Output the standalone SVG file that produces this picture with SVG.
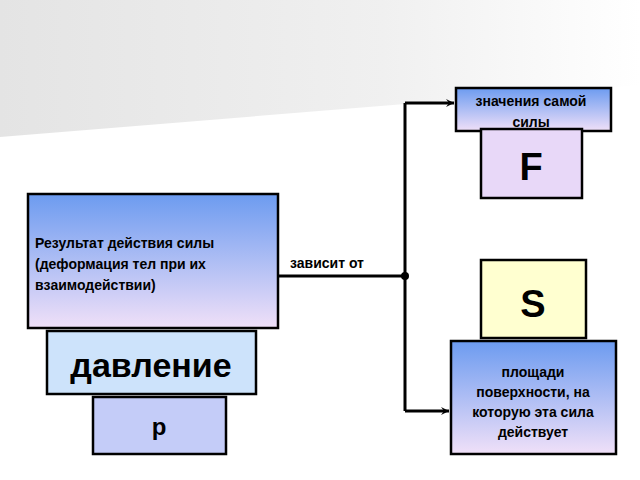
<svg xmlns="http://www.w3.org/2000/svg" width="640" height="480" viewBox="0 0 640 480">
<defs>
<linearGradient id="bg" x1="0" y1="0" x2="1" y2="0"><stop offset="0" stop-color="#e4e4e4"/><stop offset="0.6" stop-color="#f0f0f0"/><stop offset="1" stop-color="#ffffff"/></linearGradient>
<linearGradient id="bl" x1="0" y1="0" x2="0" y2="1"><stop offset="0" stop-color="#6c9bf0"/><stop offset="1" stop-color="#f0e0f8"/></linearGradient>
<marker id="ar" markerWidth="10" markerHeight="10" refX="9" refY="5" orient="auto" markerUnits="userSpaceOnUse"><path d="M1,1 L9,5 L1,9 L4,5 Z" fill="#000"/></marker>
<style>
.b{stroke:#000;stroke-width:2.5}
.t{font-family:"Liberation Sans",Arial,sans-serif;font-weight:bold;fill:#000}
.c{fill:none;stroke:#000;stroke-width:3}
</style>
</defs>
<polygon points="0,0 640,0 640,85 0,137" fill="url(#bg)"/>
<g id="conn">
<path class="c" d="M278,276 H405"/>
<path class="c" d="M405,103 V411"/>
<path class="c" d="M405,103 H454" marker-end="url(#ar)"/>
<path class="c" d="M405,411 H449" marker-end="url(#ar)"/>
<circle cx="405" cy="276" r="4" fill="#000"/>
<text class="t" x="290" y="268" font-size="14">зависит от</text>
</g>
<g id="n-value"><rect class="b" x="456" y="88" width="155" height="43" fill="url(#bl)"/>
<text class="t" x="531" y="106" font-size="14" text-anchor="middle">значения самой</text>
<text class="t" x="531" y="127" font-size="14" text-anchor="middle">силы</text></g>
<g id="n-F"><rect class="b" x="481" y="129" width="101" height="69" fill="#e8d8f8"/>
<text class="t" x="531" y="180" font-size="38" text-anchor="middle">F</text></g>
<g id="n-result"><rect class="b" x="28" y="194" width="250" height="134" fill="url(#bl)"/>
<text class="t" x="35" y="248" font-size="14">Результат действия силы</text>
<text class="t" x="35" y="269" font-size="14">(деформация тел при их</text>
<text class="t" x="35" y="290" font-size="14">взаимодействии)</text></g>
<g id="n-pressure"><rect class="b" x="47" y="331" width="209" height="63" fill="#cde3fb"/>
<text class="t" x="151" y="377" font-size="34" text-anchor="middle">давление</text></g>
<g id="n-p"><rect class="b" x="93" y="397" width="133" height="57" fill="#c4ccf8"/>
<text class="t" x="159" y="435" font-size="24" text-anchor="middle">p</text></g>
<g id="n-S"><rect class="b" x="481" y="260" width="105" height="78" fill="#ffffd0"/>
<text class="t" x="533" y="317" font-size="38" text-anchor="middle">S</text></g>
<g id="n-area"><rect class="b" x="451" y="341" width="165" height="113" fill="url(#bl)"/>
<text class="t" x="533" y="377" font-size="14" text-anchor="middle">площади</text>
<text class="t" x="533" y="397" font-size="14" text-anchor="middle">поверхности, на</text>
<text class="t" x="533" y="417" font-size="14" text-anchor="middle">которую эта сила</text>
<text class="t" x="533" y="437" font-size="14" text-anchor="middle">действует</text></g>
</svg>
